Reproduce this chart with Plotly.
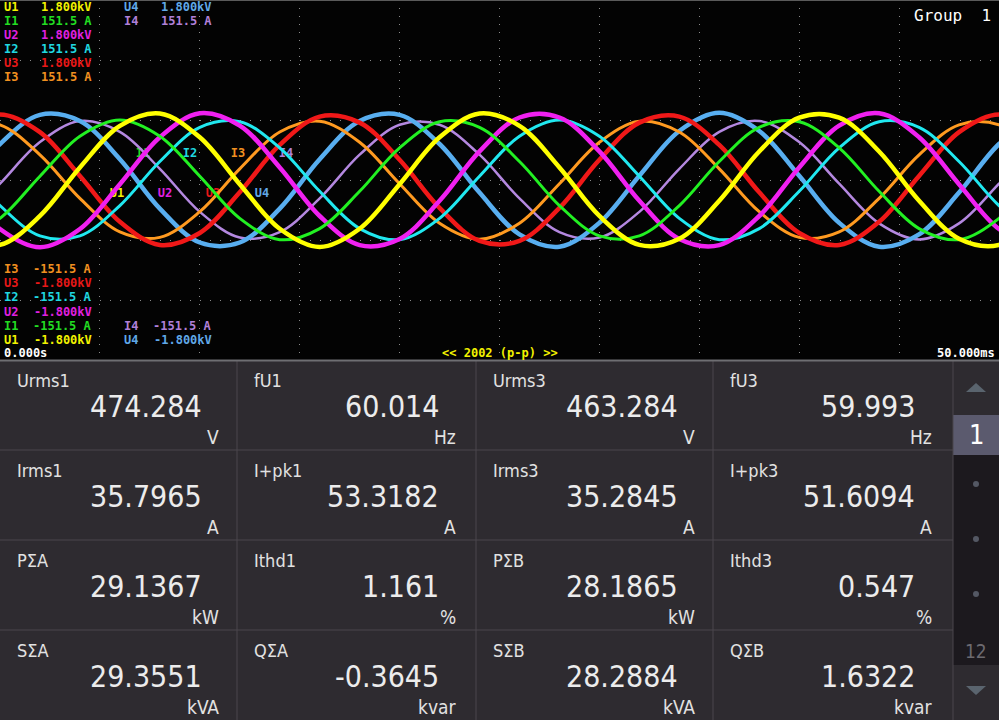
import plotly.graph_objects as go

W, H = 999, 720
SCOPE_H = 360          # waveform panel height (px), table below

# ---- waveform record: shared time grid (ms) and samples ----
T_MS = [-2, 0, 2, 4, 6, 8, 10, 12, 14, 16, 18, 20, 22, 24, 26, 28,
        30, 32, 34, 36, 38, 40, 42, 44, 46, 48, 50, 52]

U1 = [-587, -649, -359, 126, 542, 665, 427, -42, -488, -670, -488, -42, 427, 665,
      542, 126, -359, -649, -587, -207, 285, 623, 623, 285, -207, -587, -649, -359]
U2 = [-42, -490, -672, -490, -42, 428, 667, 544, 126, -360, -651, -589, -208, 286,
      625, 625, 286, -208, -589, -651, -360, 126, 544, 667, 428, -42, -490, -672]
U3 = [478, 655, 478, 41, -418, -650, -530, -123, 351, 634, 574, 202, -279, -609,
      -609, -279, 202, 574, 634, 351, -123, -530, -650, -418, 41, 478, 655, 478]
U4 = [-126, 360, 651, 589, 208, -286, -625, -625, -286, 208, 589, 651, 360, -126,
      -544, -667, -428, 42, 490, 672, 490, 42, -428, -667, -544, -126, 360, 651]
I1 = [-50.2, -32.3, 3.2, 36.9, 50.6, 36.9, 3.2, -32.3, -50.2, -40.9, -9.5, 27.1, 49.0, 44.3,
      15.6, -21.5, -47.0, -47.0, -21.5, 15.6, 44.3, 49.0, 27.1, -9.5, -40.9, -50.2, -32.3, 3.2]
I2 = [15.6, -21.5, -47.0, -47.0, -21.5, 15.6, 44.3, 49.0, 27.1, -9.5, -40.9, -50.2, -32.3, 3.2,
      36.9, 50.6, 36.9, 3.2, -32.3, -50.2, -40.9, -9.5, 27.1, 49.0, 44.3, 15.6, -21.5, -47.0]
I3 = [46.4, 46.4, 21.2, -15.4, -43.7, -48.3, -26.7, 9.4, 40.4, 49.5, 31.8, -3.1, -36.4, -49.9,
      -36.4, -3.1, 31.8, 49.5, 40.4, 9.4, -26.7, -48.3, -43.7, -15.4, 21.2, 46.4, 46.4, 21.2]
I4 = [-36.5, -3.1, 31.9, 49.6, 40.5, 9.4, -26.8, -48.4, -43.8, -15.5, 21.3, 46.5, 46.5, 21.3,
      -15.5, -43.8, -48.4, -26.8, 9.4, 40.5, 49.6, 31.9, -3.1, -36.5, -50.0, -36.5, -3.1, 31.9]

U_FS = 1800.0   # V full scale
I_FS = 151.5    # A full scale

# ---- measurement table ----
CELL_NAMES = [["Urms1", "fU1", "Urms3", "fU3"],
              ["Irms1", "I+pk1", "Irms3", "I+pk3"],
              ["PΣA", "Ithd1", "PΣB", "Ithd3"],
              ["SΣA", "QΣA", "SΣB", "QΣB"]]
CELL_VALUES = [["474.284", "60.014", "463.284", "59.993"],
               ["35.7965", "53.3182", "35.2845", "51.6094"],
               ["29.1367", "1.161", "28.1865", "0.547"],
               ["29.3551", "-0.3645", "28.2884", "1.6322"]]
CELL_UNITS = [["V", "Hz", "V", "Hz"],
              ["A", "A", "A", "A"],
              ["kW", "%", "kW", "%"],
              ["kVA", "kvar", "kVA", "kvar"]]

# colours / fonts
BLACK, CELL_BG, CELL_LINE = "#030303", "#2e2b30", "#4a474d"
SIDE_BG, SIDE_HI, SIDE_ARROW = "#1c191e", "#5b5a6e", "#5a646e"
TXT = "#ececec"
MONO = "DejaVu Sans Mono"
NARROW = "Liberation Sans Narrow, DejaVu Sans Condensed, Roboto, sans-serif"

CH = {  # name: (samples, full scale, line colour, text colour, width)
    "U1": (U1, U_FS, "#ffff00", "#f2f200", 4.5),
    "I1": (I1, I_FS, "#22f022", "#22dd22", 3.0),
    "U2": (U2, U_FS, "#f020f0", "#e020e0", 4.5),
    "I2": (I2, I_FS, "#20e8f0", "#20d8e0", 3.0),
    "U3": (U3, U_FS, "#f01818", "#e81818", 4.5),
    "I3": (I3, I_FS, "#ff9a20", "#f09020", 3.0),
    "U4": (U4, U_FS, "#58aef0", "#60a8e8", 4.5),
    "I4": (I4, I_FS, "#b488e0", "#b080d8", 2.5),
}


def px(x):
    return x / W


def py(y):
    return 1 - y / H


def to_ms(x):
    return x / W * 50.0


def to_div(y):
    return (SCOPE_H / 2 - y) / (SCOPE_H / 2)


fig = go.Figure()

# trace tags drawn underneath the waveforms
tag_pos = {"I1": (143, 154), "I2": (190, 154), "I3": (238, 154), "I4": (286, 154),
           "U1": (117, 194), "U2": (165, 194), "U3": (213, 194), "U4": (262, 194)}
fig.add_trace(go.Scatter(
    x=[to_ms(tag_pos[k][0]) for k in tag_pos], y=[to_div(tag_pos[k][1]) for k in tag_pos],
    mode="text", text=list(tag_pos), hoverinfo="skip",
    textfont=dict(family=MONO, size=12, weight="bold", color=[CH[k][3] for k in tag_pos])))

for name in ["I4", "U4", "I3", "U3", "I2", "U2", "I1", "U1"]:
    vals, fs, col, _, wid = CH[name]
    fig.add_trace(go.Scatter(
        x=T_MS, y=[v / fs for v in vals], mode="lines", name=name,
        line=dict(color=col, width=wid, shape="spline", smoothing=1.0), hoverinfo="skip"))

ann = []


def text(x, y, s, color=TXT, size=12, family=MONO, xa="left", ya="middle", weight="normal"):
    ann.append(dict(x=px(x), y=py(y), xref="paper", yref="paper", text=s, showarrow=False,
                    xanchor=xa, yanchor=ya, font=dict(family=family, size=size, color=color,
                                                      weight=weight)))


def fs_text(name, sign=""):
    if name.startswith("U"):
        return f"{sign}{U_FS / 1000:.3f}kV"
    return f"{sign}{I_FS:.1f} A"


# full-scale labels, top and bottom
top_rows = ["U1", "I1", "U2", "I2", "U3", "I3"]
for i, n in enumerate(top_rows):
    y = 7 + 14 * i
    text(2, y, n, CH[n][3], weight="bold")
    text(94, y, fs_text(n), CH[n][3], xa="right", weight="bold")
for i, n in enumerate(["U4", "I4"]):
    y = 7 + 14 * i
    text(122, y, n, CH[n][3], weight="bold")
    text(214, y, fs_text(n), CH[n][3], xa="right", weight="bold")
bot_rows = ["I3", "U3", "I2", "U2", "I1", "U1"]
for i, n in enumerate(bot_rows):
    y = 269 + 14.2 * i
    text(2, y, n, CH[n][3], weight="bold")
    text(94, y, fs_text(n, "-"), CH[n][3], xa="right", weight="bold")
for n, y in (("I4", 326), ("U4", 340)):
    text(122, y, n, CH[n][3], weight="bold")
    text(214, y, fs_text(n, "-"), CH[n][3], xa="right", weight="bold")

text(2, 353, "0.000s", "#ffffff", weight="bold")
text(997, 353, "50.000ms", "#ffffff", xa="right", weight="bold")
text(500, 353, "<< 2002 (p-p) >>", "#f2f200", xa="center", weight="bold")
text(993, 15, "Group  1", "#ffffff", size=16, xa="right")

# measurement cells
COL_X = [0, 237, 476, 713, 953]
ROW_Y = [360, 450, 540, 630, 720]
for r in range(4):
    for c in range(4):
        x0, y0 = COL_X[c], ROW_Y[r]
        text(x0 + 15, y0 + 20, CELL_NAMES[r][c], "#e2e2e2", size=18, family=NARROW)
        text(x0 + 204, y0 + 46, CELL_VALUES[r][c], TXT, size=30, family=NARROW, xa="right")
        text(x0 + 221, y0 + 77, CELL_UNITS[r][c], "#e2e2e2", size=19, family=NARROW, xa="right")

# side page selector
text(976, 434, "1", "#ffffff", size=27, family=NARROW, xa="center")
text(976, 651, "12", "#6c6a70", size=19, family=NARROW, xa="center")

shapes = []


def rect(x0, y0, x1, y1, fill):
    shapes.append(dict(type="rect", xref="paper", yref="paper", x0=px(x0), y0=py(y0),
                       x1=px(x1), y1=py(y1), fillcolor=fill, layer="below",
                       line=dict(width=0)))


def seg(x0, y0, x1, y1, color, width=1):
    shapes.append(dict(type="line", xref="paper", yref="paper", x0=px(x0), y0=py(y0),
                       x1=px(x1), y1=py(y1), line=dict(color=color, width=width)))


rect(953, 360, 999, 720, SIDE_BG)
rect(953, 360, 999, 415, CELL_BG)
rect(953, 415, 999, 455, SIDE_HI)
rect(953, 665, 999, 720, CELL_BG)
for x in COL_X[1:]:
    seg(x, 360, x, 720, CELL_LINE)
for y in ROW_Y[1:-1]:
    seg(0, y, 953, y, CELL_LINE)
seg(0, 360.5, 999, 360.5, "#6e6e72", 2)
seg(0, 0.5, 999, 0.5, "#5a5a5a", 1)

for tri in ([(966, 392), (976, 383), (986, 392)], [(966, 686), (976, 695), (986, 686)]):
    path = "M " + " L ".join(f"{px(a)},{py(b)}" for a, b in tri) + " Z"
    shapes.append(dict(type="path", xref="paper", yref="paper", path=path,
                       fillcolor=SIDE_ARROW, line=dict(width=0)))
for yy in (484, 539, 594):
    shapes.append(dict(type="circle", xref="paper", yref="paper", x0=px(973), x1=px(979),
                       y0=py(yy + 3), y1=py(yy - 3), fillcolor="#545864", line=dict(width=0)))

fig.update_layout(
    width=W, height=H, margin=dict(l=0, r=0, t=0, b=0, pad=0),
    paper_bgcolor=CELL_BG, plot_bgcolor=BLACK, showlegend=False,
    xaxis=dict(domain=[0, 1], range=[0, 50], dtick=5, tick0=0, showticklabels=False,
               ticks="", showgrid=True, gridcolor="#8a8a8a", gridwidth=1,
               griddash="1px,7px", zeroline=False, showline=False, fixedrange=True),
    yaxis=dict(domain=[1 - SCOPE_H / H, 1], range=[-1, 1], dtick=1 / 3, tick0=0,
               showticklabels=False, ticks="", showgrid=True, gridcolor="#8a8a8a",
               gridwidth=1, griddash="1px,9px", zeroline=False, showline=False,
               fixedrange=True),
    annotations=ann, shapes=shapes,
)

# the page's default 8px body margin would push the 999x720 figure off the window
fig.write_html("out.html", config={"displayModeBar": False},
               post_script="document.body.style.margin='0px';")
